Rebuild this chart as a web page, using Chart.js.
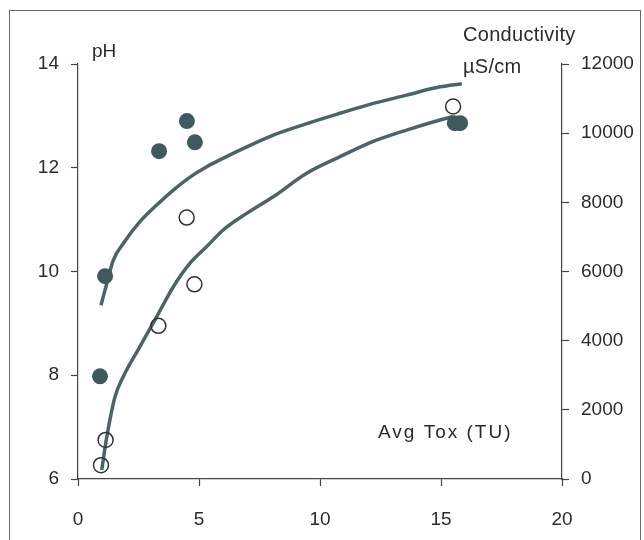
<!DOCTYPE html>
<html>
<head>
<meta charset="utf-8">
<title>pH and conductivity vs toxicity</title>
<script src="https://cdn.jsdelivr.net/npm/chart.js@4"></script>
<style>
    html, body { margin: 0; padding: 0; background: #ffffff; }
    #toxChart { display: block; }
</style>
</head>
<body>
<canvas id="toxChart" width="644" height="540"></canvas>
<script>
// measured samples
const phTox = [0.91, 1.12, 3.35, 4.5, 4.83, 15.57, 15.79];
const phValues = [7.98, 9.91, 12.32, 12.9, 12.49, 12.86, 12.86];

const condTox = [0.95, 1.14, 3.32, 4.49, 4.81, 15.5];
const condValues = [400, 1130, 4430, 7560, 5630, 10770];

// fitted curves
const phFitTox = [0.95, 1.19, 1.46, 1.87, 2.56, 3.25, 3.94, 4.63, 5.32, 5.99, 6.69, 8.07, 9.45, 10.83, 12.2, 13.58, 14.96, 15.86];
const phFitValues = [9.35, 9.77, 10.22, 10.54, 10.96, 11.28, 11.57, 11.82, 12.02, 12.18, 12.34, 12.63, 12.85, 13.05, 13.24, 13.4, 13.56, 13.62];

const condFitTox = [0.98, 1.19, 1.53, 1.87, 2.56, 3.25, 3.94, 4.63, 5.32, 6.0, 6.97, 8.07, 9.45, 10.83, 12.2, 13.58, 14.96, 15.5];
const condFitValues = [260, 1220, 2380, 2960, 3830, 4690, 5560, 6240, 6720, 7200, 7680, 8160, 8840, 9320, 9760, 10090, 10380, 10480];

const toxTicks = [0, 5, 10, 15, 20];
const phTicks = [6, 8, 10, 12, 14];
const condTicks = [0, 2000, 4000, 6000, 8000, 10000, 12000];

function pairs(xs, ys) {
    return xs.map((x, i) => ({ x: x, y: ys[i] }));
}

const lineColor = '#4a6568';
const dotColor = '#3e5a5f';
const inkColor = '#2b2b2b';
const fontFamily = '"Liberation Sans", Arial, sans-serif';

// frame around the figure and the free-standing axis titles
const annotations = {
    id: 'annotations',
    beforeDraw(chart) {
        const ctx = chart.ctx;
        ctx.save();
        ctx.fillStyle = '#ffffff';
        ctx.fillRect(0, 0, chart.width, chart.height);
        ctx.strokeStyle = '#6a6a6a';
        ctx.lineWidth = 1;
        ctx.strokeRect(9.5, 10.5, 631, 540);
        ctx.restore();
    },
    afterDraw(chart) {
        const ctx = chart.ctx;
        ctx.save();
        ctx.fillStyle = inkColor;
        ctx.textBaseline = 'alphabetic';
        ctx.textAlign = 'left';
        ctx.font = '19px ' + fontFamily;
        ctx.fillText('pH', 92, 57);
        ctx.font = '20px ' + fontFamily;
        ctx.letterSpacing = '0.3px';
        ctx.fillText('Conductivity', 463, 41);
        ctx.fillText('\u00b5S/cm', 463, 73);
        ctx.font = '19px ' + fontFamily;
        ctx.letterSpacing = '2px';
        ctx.fillText('Avg Tox (TU)', 378, 438);
        ctx.restore();
    }
};

document.addEventListener("DOMContentLoaded", function() {
    const ctxTox = document.getElementById('toxChart').getContext('2d');

    const tickFont = { family: fontFamily, size: 19 };

    const toxChart = new Chart(ctxTox, {
        type: 'scatter',
        data: {
            datasets: [
                {
                    label: 'pH',
                    data: pairs(phTox, phValues),
                    yAxisID: 'yPH',
                    backgroundColor: dotColor,
                    borderColor: dotColor,
                    borderWidth: 0,
                    pointRadius: 8,
                    order: 0,
                },
                {
                    label: 'Conductivity',
                    data: pairs(condTox, condValues),
                    yAxisID: 'yCond',
                    backgroundColor: 'rgba(255, 255, 255, 0)',
                    borderColor: '#333333',
                    borderWidth: 1.5,
                    pointRadius: 7.5,
                    order: 1,
                },
                {
                    label: 'pH fit',
                    type: 'line',
                    data: pairs(phFitTox, phFitValues),
                    yAxisID: 'yPH',
                    borderColor: lineColor,
                    borderWidth: 3.5,
                    pointRadius: 0,
                    cubicInterpolationMode: 'monotone',
                    fill: false,
                    order: 2,
                },
                {
                    label: 'Conductivity fit',
                    type: 'line',
                    data: pairs(condFitTox, condFitValues),
                    yAxisID: 'yCond',
                    borderColor: lineColor,
                    borderWidth: 3.5,
                    pointRadius: 0,
                    cubicInterpolationMode: 'monotone',
                    fill: false,
                    order: 2,
                },
            ],
        },
        options: {
            responsive: false,
            animation: false,
            layout: {
                padding: { top: 64, left: 0, right: 0, bottom: 0 },
            },
            scales: {
                x: {
                    type: 'linear',
                    min: 0,
                    max: 20,
                    afterBuildTicks: (scale) => { scale.ticks = toxTicks.map(v => ({ value: v })); },
                    afterFit: (scale) => { scale.height = 61; },
                    grid: { drawOnChartArea: false, tickLength: 7, color: '#444444', tickWidth: 1.2 },
                    border: { display: true, color: '#444444', width: 1.2 },
                    ticks: { color: inkColor, font: tickFont, padding: 22, maxRotation: 0 },
                },
                yPH: {
                    type: 'linear',
                    position: 'left',
                    min: 6,
                    max: 14,
                    afterBuildTicks: (scale) => { scale.ticks = phTicks.map(v => ({ value: v })); },
                    afterFit: (scale) => { scale.width = 78; },
                    grid: { drawOnChartArea: false, tickLength: 7, color: '#444444', tickWidth: 1.2 },
                    border: { display: true, color: '#444444', width: 1.2 },
                    ticks: { color: inkColor, font: tickFont, padding: 12 },
                },
                yCond: {
                    type: 'linear',
                    position: 'right',
                    min: 0,
                    max: 12000,
                    afterBuildTicks: (scale) => { scale.ticks = condTicks.map(v => ({ value: v })); },
                    afterFit: (scale) => { scale.width = 82; },
                    grid: { drawOnChartArea: false, tickLength: 7, color: '#444444', tickWidth: 1.2 },
                    border: { display: true, color: '#444444', width: 1.2 },
                    ticks: { color: inkColor, font: tickFont, padding: 12, callback: (v) => String(v) },
                },
            },
            plugins: {
                legend: {
                    display: false,
                },
                tooltip: {
                    enabled: false,
                },
            },
        },
        plugins: [annotations],
    });
});
</script>
</body>
</html>
